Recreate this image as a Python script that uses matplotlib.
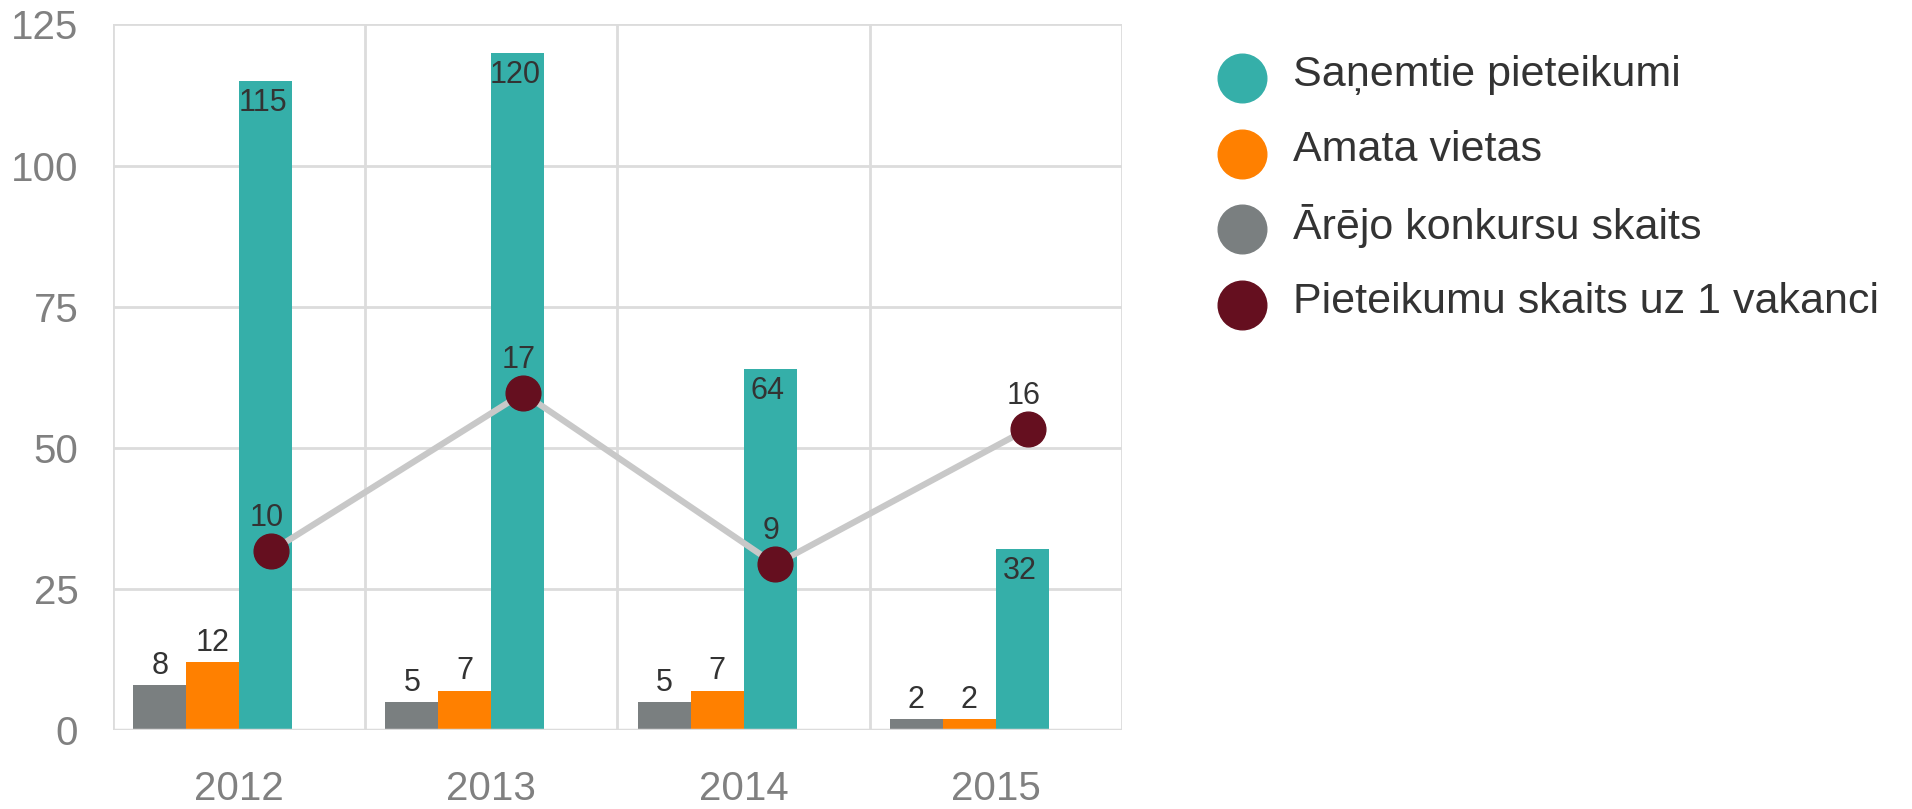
import numpy as np
import matplotlib.pyplot as plt
from matplotlib.lines import Line2D

plt.rcParams['font.family'] = ['Liberation Sans', 'DejaVu Sans']

# Data
years = ["2012", "2013", "2014", "2015"]
konkursi = [8, 5, 5, 2]          # Ārējo konkursu skaits
vietas = [12, 7, 7, 2]           # Amata vietas
pieteikumi = [115, 120, 64, 32]  # Saņemtie pieteikumi
uz_vakanci = [9.5, 17.9, 8.8, 16.0]  # Pieteikumu skaits uz 1 vakanci (as drawn)
uz_vakanci_labels = ["10", "17", "9", "16"]

c_teal = "#35AFA9"
c_orange = "#FF8000"
c_gray = "#7A7F80"
c_dot = "#650F1F"
c_grid = "#DCDCDC"
c_tick = "#808080"
c_text = "#333333"

fig = plt.figure(figsize=(19.12, 8.09), dpi=100)
ax = fig.add_axes([0.0591, 0.0976, 0.5277, 0.8722])

x = np.arange(len(years))
w = 0.21
b1 = ax.bar(x - 1.5 * w, konkursi, w, color=c_gray, zorder=3)
b2 = ax.bar(x - 0.5 * w, vietas, w, color=c_orange, zorder=3)
b3 = ax.bar(x + 0.5 * w, pieteikumi, w, color=c_teal, zorder=3)

fs_val = 22
for rect, v in zip(b1, konkursi):
    ax.annotate(str(v), (rect.get_x() + rect.get_width() / 2, v), xytext=(0, 3),
                textcoords="offset points", ha="center", va="bottom", fontsize=fs_val, color=c_text, zorder=5)
for rect, v in zip(b2, vietas):
    ax.annotate(str(v), (rect.get_x() + rect.get_width() / 2, v), xytext=(0, 3),
                textcoords="offset points", ha="center", va="bottom", fontsize=fs_val, color=c_text, zorder=5)
for rect, v in zip(b3, pieteikumi):
    ax.annotate(str(v), (rect.get_x() + rect.get_width() / 2, v), xytext=(-2, -5),
                textcoords="offset points", ha="center", va="top", fontsize=fs_val, color=c_text, zorder=5)

ax.set_xlim(-0.5, len(years) - 0.5)
ax.set_ylim(0, 125)
ax.set_yticks([0, 25, 50, 75, 100, 125])
ax.set_xticks(x)
ax.set_xticklabels(years)
ax.tick_params(axis="both", length=0, labelsize=29, labelcolor=c_tick)
ax.tick_params(axis="x", pad=29)
ax.tick_params(axis="y", pad=25)

# grid
ax.set_xticks(np.arange(-0.5, len(years), 1), minor=True)
ax.tick_params(axis="x", which="minor", length=0)
ax.grid(axis="y", color=c_grid, linewidth=2, zorder=0)
ax.grid(axis="x", which="minor", color=c_grid, linewidth=2, zorder=0)
for s in ax.spines.values():
    s.set_visible(False)
ax.axhline(0, color=c_grid, linewidth=2.5, zorder=4)

# line on secondary scale
ax2 = ax.twinx()
ax2.set_ylim(0, 37.5)
ax2.axis("off")
xl = x + 0.126
ax2.plot(xl, uz_vakanci, color="#C8C8C8", linewidth=4.5, zorder=2)
ax2.plot(xl, uz_vakanci, linestyle="none", marker="o", markersize=25,
         markerfacecolor=c_dot, markeredgecolor=c_dot, zorder=3)
for xi, v, lab in zip(xl, uz_vakanci, uz_vakanci_labels):
    ax2.annotate(lab, (xi, v), xytext=(-3, 13), textcoords="offset points",
                 ha="center", va="bottom", fontsize=fs_val, color=c_text)

# legend
leg_colors = [c_teal, c_orange, c_gray, c_dot]
leg_labels = ["Saņemtie pieteikumi", "Amata vietas", "Ārējo konkursu skaits",
              "Pieteikumu skaits uz 1 vakanci"]
for i, (col, lab) in enumerate(zip(leg_colors, leg_labels)):
    yy = 0.9036 - i * 0.0935
    fig.add_artist(Line2D([0.6494], [yy], transform=fig.transFigure, linestyle="none",
                          marker="o", markersize=35, color=col))
    fig.text(0.6765, yy + 0.004, lab, ha="left", va="center", fontsize=31, color=c_text)

fig.savefig("out.png", dpi=100)
